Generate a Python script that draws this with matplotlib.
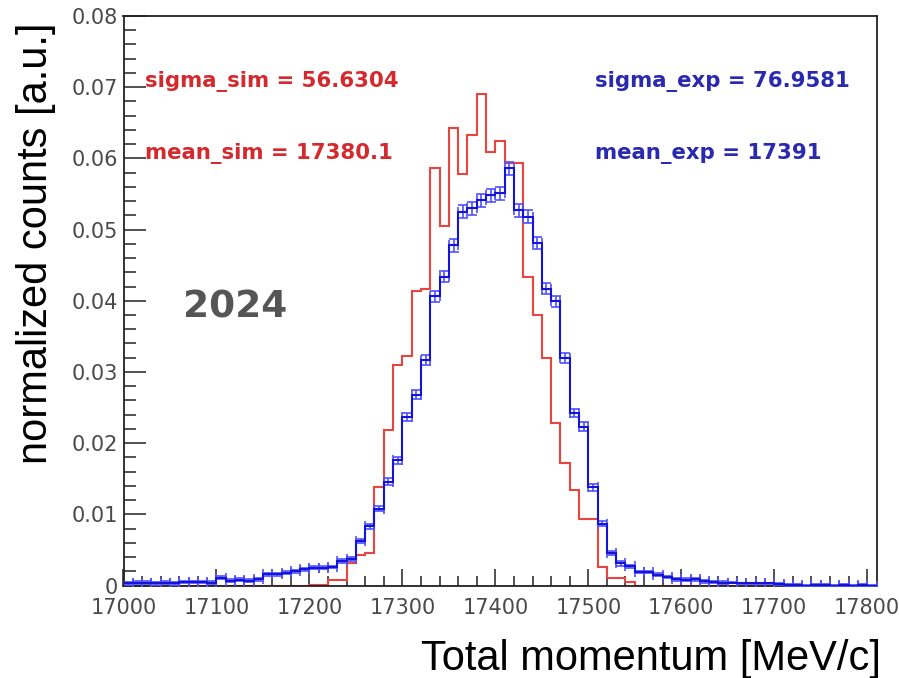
import numpy as np
import matplotlib
matplotlib.use("Agg")
import matplotlib.pyplot as plt
from matplotlib.ticker import MultipleLocator, FuncFormatter

# ---------------- data ----------------
bin_start = 17000
bin_width = 10
n_bins = 81
bin_edges = bin_start + bin_width * np.arange(n_bins + 1)

# simulation (red), one value per 10 MeV bin starting at 17000
sim_counts = [
    0, 0, 0, 0, 0, 0, 0, 0, 0, 0,                              # 17000-17090
    0, 0, 0, 0, 0, 0, 0, 0, 0, 0,                              # 17100-17190
    0.0001, 0.0001, 0.0008, 0.0008, 0.0032,                    # 17200-17240
    0.0043, 0.0045, 0.0138, 0.0218, 0.0310,                    # 17250-17290
    0.0323, 0.0413, 0.0416, 0.0587, 0.0505,                    # 17300-17340
    0.0642, 0.0578, 0.0633, 0.0691, 0.0609,                    # 17350-17390
    0.0624, 0.0593, 0.0593, 0.0434, 0.0380,                    # 17400-17440
    0.0319, 0.0228, 0.0172, 0.0134, 0.0094,                    # 17450-17490
    0.0094, 0.0026, 0.0010, 0.0010, 0.0005,                    # 17500-17540
    0, 0, 0, 0, 0, 0, 0, 0, 0, 0,                              # 17550-17640
    0, 0, 0, 0, 0, 0, 0, 0, 0, 0,                              # 17650-17740
    0, 0, 0, 0, 0, 0,                                          # 17750-17800
]

# experiment (blue)
exp_counts = [
    0.0003, 0.0004, 0.0004, 0.0003, 0.0004,                    # 17000-17040
    0.0003, 0.0005, 0.0005, 0.0005, 0.0004,                    # 17050-17090
    0.0011, 0.0007, 0.0008, 0.0007, 0.0009,                    # 17100-17140
    0.0016, 0.0016, 0.0018, 0.0020, 0.0023,                    # 17150-17190
    0.0025, 0.0025, 0.0026, 0.0034, 0.0037,                    # 17200-17240
    0.0062, 0.0083, 0.0108, 0.0146, 0.0176,                    # 17250-17290
    0.0237, 0.0268, 0.0317, 0.0406, 0.0434,                    # 17300-17340
    0.0478, 0.0525, 0.0530, 0.0541, 0.0548,                    # 17350-17390
    0.0551, 0.0586, 0.0527, 0.0518, 0.0481,                    # 17400-17440
    0.0417, 0.0399, 0.0319, 0.0242, 0.0223,                    # 17450-17490
    0.0138, 0.0087, 0.0046, 0.0031, 0.0027,                    # 17500-17540
    0.0019, 0.0019, 0.0015, 0.0012, 0.0009,                    # 17550-17590
    0.0008, 0.0009, 0.0006, 0.0005, 0.0004,                    # 17600-17640
    0.0004, 0.0003, 0.0003, 0.0003, 0.0003,                    # 17650-17690
    0.0002, 0.0001, 0.0001, 0.0000, 0.0001,                    # 17700-17740
    0.0001, 0.0000, 0.0001, 0.0000, 0.0001,                    # 17750-17790
    0.0000,                                                    # 17800
]

exp_errors = [
    0.0002, 0.0002, 0.0002, 0.0002, 0.0002, 0.0002, 0.0002, 0.0002, 0.0002, 0.0002,
    0.0002, 0.0002, 0.0002, 0.0002, 0.0002,
    0.0002, 0.0002, 0.0002, 0.0002, 0.0002, 0.0002, 0.0002, 0.0002, 0.0003, 0.0003,
    0.0003, 0.0004, 0.0004, 0.0005, 0.0005, 0.0006, 0.0006, 0.0007, 0.0008, 0.0008,
    0.0009, 0.0009, 0.0009, 0.0009, 0.0009, 0.0009, 0.0009, 0.0009, 0.0009, 0.0009,
    0.0008, 0.0008, 0.0007, 0.0006, 0.0006, 0.0005, 0.0004, 0.0003, 0.0003, 0.0002,
    0.0002, 0.0002, 0.0002, 0.0002, 0.0002, 0.0002, 0.0002, 0.0002, 0.0002, 0.0002,
    0.0001, 0.0001, 0.0001, 0.0001, 0.0001, 0.0001, 0.0001, 0.0001, 0.0001, 0.0001,
    0.0001, 0.0001, 0.0001, 0.0001, 0.0001, 0.0001,
]

sim_labels = ["sigma_sim = 56.6304", "mean_sim = 17380.1"]
exp_labels = ["sigma_exp = 76.9581", "mean_exp = 17391"]
year_label = "2024"
x_title = "Total momentum [MeV/c]"
y_title = "normalized counts [a.u.]"

# ---------------- figure ----------------
W, H = 899, 678
fig = plt.figure(figsize=(W / 100, H / 100), dpi=100)
fig.patch.set_facecolor("white")

def fx(px):
    return px / W

def fy(py):
    return 1 - py / H

ax_l, ax_r, ax_t, ax_b = 123.5, 876.5, 16, 585.5
ax = fig.add_axes([fx(ax_l), fy(ax_b), (ax_r - ax_l) / W, (ax_b - ax_t) / H])

sim = np.array(sim_counts)
expv = np.array(exp_counts)
err = np.array(exp_errors)
centers = 0.5 * (bin_edges[:-1] + bin_edges[1:])

ax.stairs(sim, bin_edges, color="#e8453f", lw=1.5, zorder=2)
ax.errorbar(centers, expv, xerr=bin_width / 2, yerr=err, fmt="none",
            ecolor="#5050ff", elinewidth=1.2, capsize=3.5, capthick=1.2, zorder=3)
ax.stairs(expv, bin_edges, color="#1414d8", lw=1.5, zorder=4)

ax.set_xlim(17000, 17810)
ax.set_ylim(0, 0.08)

ax.xaxis.set_major_locator(MultipleLocator(100))
ax.xaxis.set_minor_locator(MultipleLocator(20))
ax.yaxis.set_major_locator(MultipleLocator(0.01))
ax.yaxis.set_minor_locator(MultipleLocator(0.002))
ax.yaxis.set_major_formatter(FuncFormatter(lambda v, p: "0" if abs(v) < 1e-9 else f"{v:.2f}"))
ax.xaxis.set_major_formatter(FuncFormatter(lambda v, p: f"{int(round(v))}"))

for s in ax.spines.values():
    s.set_color("#222222")
    s.set_linewidth(1.3)

ax.tick_params(axis="both", which="both", direction="in", top=False, right=False,
               color="#222222", width=1.1)
ax.tick_params(axis="x", which="major", length=12, pad=9, labelsize=15, labelcolor="#4a4a4a")
ax.tick_params(axis="x", which="minor", length=7)
ax.tick_params(axis="y", which="major", length=15.5, pad=4, labelsize=15, labelcolor="#4a4a4a")
ax.tick_params(axis="y", which="minor", length=8.5)

# annotations
red_txt = "#d42a2e"
blue_txt = "#2a2ab0"
ann_size = 15.3
fig.text(fx(145), fy(81), sim_labels[0], color=red_txt, fontsize=ann_size,
         fontweight="bold", ha="left", va="center")
fig.text(fx(145), fy(153), sim_labels[1], color=red_txt, fontsize=ann_size,
         fontweight="bold", ha="left", va="center")
fig.text(fx(595), fy(81), exp_labels[0], color=blue_txt, fontsize=ann_size,
         fontweight="bold", ha="left", va="center")
fig.text(fx(595), fy(153), exp_labels[1], color=blue_txt, fontsize=ann_size,
         fontweight="bold", ha="left", va="center")
fig.text(fx(183), fy(307), year_label, color="#555555", fontsize=27,
         fontweight="bold", ha="left", va="center")

fig.text(fx(881), fy(670), x_title, fontsize=30, family="Liberation Sans",
         ha="right", va="baseline", color="black")
fig.text(fx(36), fy(243), y_title, fontsize=30, family="Liberation Sans",
         rotation=90, ha="center", va="center", color="black")

fig.savefig("out.png", dpi=100)
